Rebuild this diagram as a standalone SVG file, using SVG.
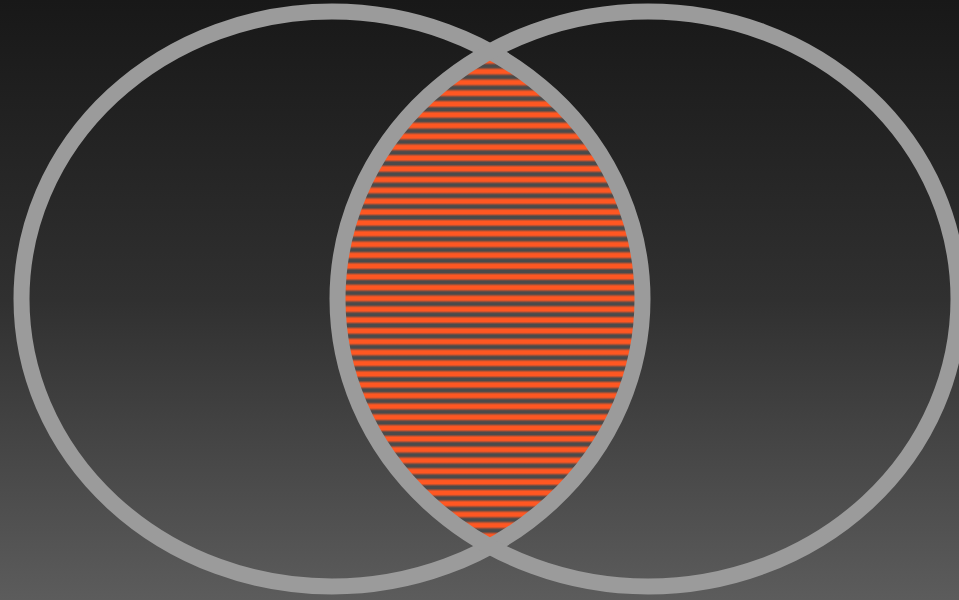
<svg xmlns="http://www.w3.org/2000/svg" width="959" height="600" viewBox="0 0 959 600">
  <defs>
    <linearGradient id="bg" x1="0" y1="0" x2="0" y2="1">
      <stop offset="0" stop-color="#181818"/>
      <stop offset="0.5" stop-color="#303030"/>
      <stop offset="1" stop-color="#5c5c5c"/>
    </linearGradient>
    <linearGradient id="stripe" x1="0" y1="0" x2="0" y2="1">
      <stop offset="0" stop-color="#4a4a4a"/>
      <stop offset="0.15" stop-color="#4a4a4a"/>
      <stop offset="0.38" stop-color="#ff5722"/>
      <stop offset="0.7" stop-color="#ff5722"/>
      <stop offset="0.92" stop-color="#4a4a4a"/>
      <stop offset="1" stop-color="#4a4a4a"/>
    </linearGradient>
    <pattern id="hatch" patternUnits="userSpaceOnUse" x="0" y="1" width="20" height="10.8">
      <rect width="20" height="10.8" fill="url(#stripe)"/>
    </pattern>
    <clipPath id="leftClip">
      <ellipse cx="332" cy="299" rx="310.5" ry="287.5"/>
    </clipPath>
    <style>
      .ring { fill: none; stroke: #9b9b9b; stroke-width: 16; }
    </style>
  </defs>
  <rect width="959" height="600" fill="url(#bg)"/>
  <g id="intersection">
    <ellipse cx="648" cy="299" rx="310.5" ry="287.5" fill="url(#hatch)" clip-path="url(#leftClip)"/>
  </g>
  <g id="set-a">
    <ellipse class="ring" cx="332" cy="299" rx="310.5" ry="287.5"/>
  </g>
  <g id="set-b">
    <ellipse class="ring" cx="648" cy="299" rx="310.5" ry="287.5"/>
  </g>
  <g id="connectors"/>
</svg>
